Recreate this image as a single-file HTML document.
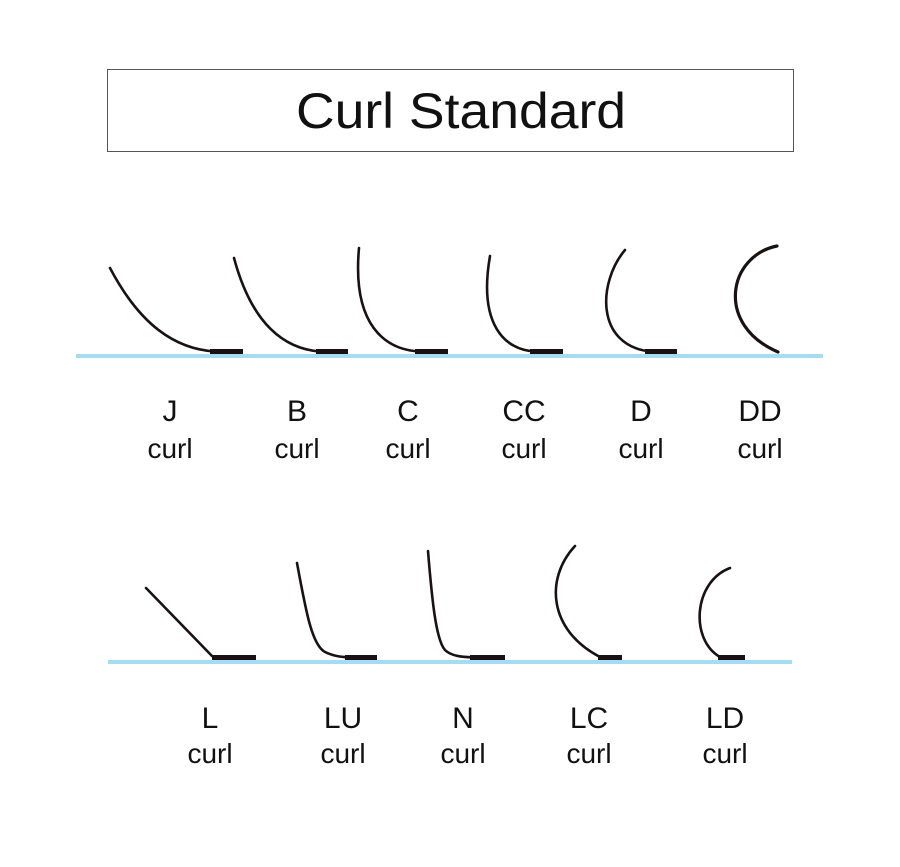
<!DOCTYPE html>
<html><head><meta charset="utf-8"><style>
html,body{margin:0;padding:0;background:#fff;}
svg{display:block}
text{font-family:"Liberation Sans",Arial,sans-serif;fill:#111;text-anchor:middle}
</style></head><body>
<svg width="900" height="867" viewBox="0 0 900 867" xmlns="http://www.w3.org/2000/svg">
<rect x="107.5" y="69.5" width="686" height="82" fill="#fff" stroke="#555" stroke-width="1"/>
<text x="461" y="128" font-size="50" textLength="330" lengthAdjust="spacingAndGlyphs">Curl Standard</text>

<rect x="76" y="354" width="747" height="4" fill="#a6dcf2"/>
<rect x="108" y="660" width="684" height="4" fill="#a6dcf2"/>

<g fill="none" stroke="#1a1212" stroke-width="2.6" stroke-linecap="round">
 <path d="M110 268 C140 325 175 349 215 351.5"/>
 <path d="M234 258 C252 325 285 349 320 351.5"/>
 <path d="M359 248 C352 325 385 350 420 351.5"/>
 <path d="M490 256 C478 325 505 350 535 351.5"/>
 <path d="M625 250 C598 282 595 345 650 351.5"/>
 <path d="M777 246 C728 256 715 325 778 352" stroke-width="3.2"/>
 <path d="M146 588 L212 656"/>
 <path d="M297 563 C306 612 312 645 325 652 C335 657 345 657 350 657.5"/>
 <path d="M428 551 C432 600 436 640 445 650 C452 657 465 657 475 657.5"/>
 <path d="M575 546 C545 578 548 630 600 657"/>
 <path d="M730 568 C693 582 690 640 720 657"/>
</g>
<g fill="#1a1212">
 <rect x="210" y="349" width="33" height="5"/>
 <rect x="316" y="349" width="32" height="5"/>
 <rect x="415" y="349" width="33" height="5"/>
 <rect x="530" y="349" width="33" height="5"/>
 <rect x="645" y="349" width="32" height="5"/>
 <rect x="212" y="655" width="44" height="5"/>
 <rect x="345" y="655" width="32" height="5"/>
 <rect x="470" y="655" width="35" height="5"/>
 <rect x="598" y="655" width="24" height="5"/>
 <rect x="718" y="655" width="27" height="5"/>
</g>

<g font-size="30">
 <text x="170" y="421">J</text>
 <text x="297" y="421">B</text>
 <text x="408" y="421">C</text>
 <text x="524" y="421">CC</text>
 <text x="641" y="421">D</text>
 <text x="760" y="421">DD</text>
 <text x="210" y="728">L</text>
 <text x="343" y="728">LU</text>
 <text x="463" y="728">N</text>
 <text x="589" y="728">LC</text>
 <text x="725" y="728">LD</text>
</g>
<g font-size="28">
 <text x="170" y="458">curl</text>
 <text x="297" y="458">curl</text>
 <text x="408" y="458">curl</text>
 <text x="524" y="458">curl</text>
 <text x="641" y="458">curl</text>
 <text x="760" y="458">curl</text>
 <text x="210" y="763">curl</text>
 <text x="343" y="763">curl</text>
 <text x="463" y="763">curl</text>
 <text x="589" y="763">curl</text>
 <text x="725" y="763">curl</text>
</g>
</svg>
</body></html>
